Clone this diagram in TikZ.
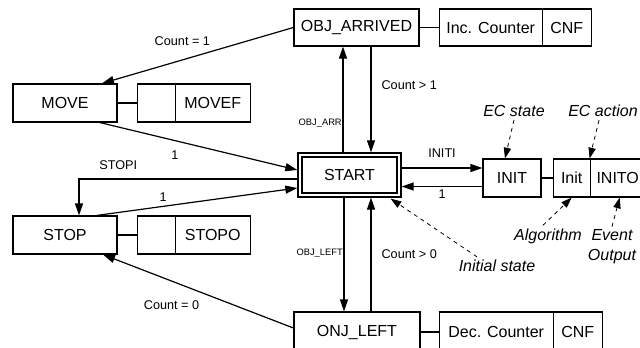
\documentclass[tikz,border=0pt]{standalone}
\usepackage{fontspec}
\setmainfont{Liberation Sans}
\usepackage{tikz}
\usetikzlibrary{arrows.meta,positioning,calc}

\begin{document}
\begin{tikzpicture}[x=0.75pt, y=-0.75pt, line width=0.9pt,
    box/.style={draw, rectangle, minimum height=28.5pt, inner sep=2pt, font=\fontsize{12}{14}\selectfont},
    lbl/.style={inner sep=1pt, font=\fontsize{9.5}{11}\selectfont},
    vlbl/.style={inner sep=0.5pt, font=\fontsize{7}{8}\selectfont},
    note/.style={inner sep=2pt, font=\fontsize{12}{15}\selectfont\itshape, align=center},
    arr/.style={-{Triangle[length=9pt,width=6pt]}},
    darr/.style={-{Triangle[length=8pt,width=5.5pt]}, dashed, line width=0.6pt}]

\useasboundingbox (0,0) rectangle (640,347);

% states
\node [box, minimum width=74.25pt, minimum height=30pt, double, double distance=2.2pt, outer sep=2pt] (start) at (349.5,175) {START};
\node [box, minimum width=93.75pt, minimum height=27.75pt] (objarr) at (356.5,27.5) {OBJ\_ARRIVED};
\node [box, minimum width=94.5pt, minimum height=30pt] (onjleft) at (357,332) {ONJ\_LEFT};
\node [box, minimum width=78pt] (move) at (65,103) {MOVE};
\node [box, minimum width=78pt] (stop) at (65,235) {STOP};
\node [box, minimum width=43.5pt] (init) at (512,178) {INIT};

% actions
\node [box, minimum width=77.25pt, minimum height=27.75pt, right=14.25pt of objarr] (inc) {Inc. Counter};
\node [box, minimum width=36.75pt, minimum height=27.75pt, right=-0.9pt of inc] (cnfa) {CNF};
\node [box, minimum width=85.5pt, minimum height=30pt, right=13.5pt of onjleft] (dec) {Dec. Counter};
\node [box, minimum width=36.75pt, minimum height=30pt, right=-0.9pt of dec] (cnfb) {CNF};
\node [box, minimum width=28.5pt, right=14.25pt of move] (movealg) {};
\node [box, minimum width=56.25pt, right=-0.9pt of movealg] (movef) {MOVEF};
\node [box, minimum width=28.5pt, right=14.25pt of stop] (stopalg) {};
\node [box, minimum width=56.25pt, right=-0.9pt of stopalg] (stopo) {STOPO};
\node [box, minimum width=27.75pt, right=8.25pt of init] (initalg) {Init};
\node [box, minimum width=41.25pt, right=-0.9pt of initalg] (inito) {INITO};

\path [draw] (objarr.east) -- (inc.west);
\path [draw] (onjleft.east) -- (dec.west);
\path [draw] (move.east) -- (movealg.west);
\path [draw] (stop.east) -- (stopalg.west);
\path [draw] (init.east) -- (initalg.west);

% transitions
\path [draw, arr] (objarr.west) -- node [lbl, pos=0.58, above=9pt] {Count = 1} ($(move.north)+(37,0)$);
\path [draw, arr] ($(move.south)+(35,0)$) -- node [lbl, pos=0.38, below=6pt] {1} ($(start.west)+(0,-5)$);
\path [draw, arr] ($(start.west)+(0,4)$) -| node [lbl, pos=0.41, above=5.5pt] {STOPI} ($(stop.north)+(14,0)$);
\path [draw, arr] ($(stop.north)+(32,0)$) -- node [lbl, pos=0.33, above=2pt] {1} ($(start.west)+(0,13)$);
\path [draw, arr] ($(onjleft.west)+(0,-4)$) -- node [lbl, pos=0.64, below=13pt] {Count = 0} ($(stop.south)+(38,0)$);

\coordinate (s1) at ($(start.north)+(-6.5,0)$);
\coordinate (s2) at ($(start.north)+(21.5,0)$);
\coordinate (s3) at ($(start.south)+(-5.5,0)$);
\coordinate (s4) at ($(start.south)+(21.5,0)$);
\path [draw, arr] (s1) -- node [vlbl, pos=0.28, left=0pt] {OBJ\_ARR} (s1 |- objarr.south);
\path [draw, arr] (s2 |- objarr.south) -- node [lbl, pos=0.36, right=6.5pt] {Count > 1} (s2);
\path [draw, arr] (s3) -- node [vlbl, pos=0.49, left=0pt] {OBJ\_LEFT} (s3 |- onjleft.north);
\path [draw, arr] (s4 |- onjleft.north) -- node [lbl, pos=0.5, right=6.5pt] {Count > 0} (s4);

\coordinate (e1) at ($(start.east)+(0,-7)$);
\coordinate (e2) at ($(init.west)+(0,8.5)$);
\path [draw, arr] (e1) -- node [lbl, above=6.5pt] {INITI} (e1 -| init.west);
\path [draw, arr] (e2) -- node [lbl, below=1pt] {1} (e2 -| start.east);

% notes
\node [note] (ecstate) at (514,111) {EC state};
\node [note] (ecaction) at (603,111) {EC action};
\node [note] (algo) at (548,236) {Algorithm};
\node [note] (evout) at (612,247) {Event\\Output};
\node [note] (initstate) at (497,266) {Initial state};

\path [draw, darr] (ecstate.south) -- ($(init.north)+(-7,0)$);
\path [draw, darr] ($(ecaction.south)+(-4,0)$) -- (inito.north west);
\path [draw, darr] ($(algo.north)+(-5,0)$) -- (initalg.south);
\path [draw, darr] (evout.north) -- ($(inito.south)+(2,0)$);
\path [draw, darr] ($(initstate.north)+(-20,0)$) -- ($(start.south east)+(-11,1)$);
\end{tikzpicture}
\end{document}
